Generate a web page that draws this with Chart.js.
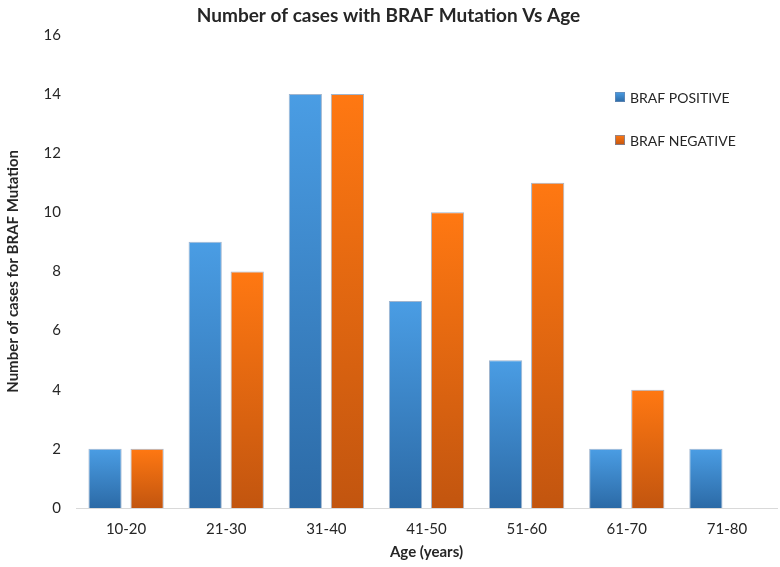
<!DOCTYPE html>
<html><head><meta charset="utf-8">
<script src="https://cdn.jsdelivr.net/npm/chart.js@4"></script>
<style>html,body{margin:0;padding:0;background:#fff}#wrap{width:780px;height:567px}</style>
</head><body><div id="wrap"><canvas id="c" width="780" height="567"></canvas></div>
<script>
const categories = ['10-20','21-30','31-40','41-50','51-60','61-70','71-80'];
const brafPositive = [2, 9, 14, 7, 5, 2, 2];
const brafNegative = [2, 8, 14, 10, 11, 4, 0];
const seriesNames = ['BRAF POSITIVE', 'BRAF NEGATIVE'];
const chartTitle = 'Number of cases with BRAF Mutation Vs Age';
const xTitle = 'Age (years)';
const yTitle = 'Number of cases for BRAF Mutation';

const FONT = 'Lato, "Open Sans", sans-serif';
const TEXT = '#262626';

function gradientFill(top, bottom) {
  return (c) => {
    const chart = c.chart;
    const ys = chart.scales && chart.scales.y;
    if (!chart.chartArea || !ys || c.type !== 'data') return top;
    const v = c.raw;
    const y0 = ys.getPixelForValue(v), y1 = ys.getPixelForValue(0);
    if (Math.abs(y1 - y0) < 1) return top;
    const g = chart.ctx.createLinearGradient(0, y0, 0, y1);
    g.addColorStop(0, top);
    g.addColorStop(1, bottom);
    return g;
  };
}

const legendPlugin = {
  id: 'overlayLegend',
  afterDraw(chart) {
    const ctx = chart.ctx;
    const x = 615, ys = [97, 140];
    ctx.save();
    ctx.font = '14px ' + FONT;
    ctx.textBaseline = 'middle';
    ctx.textAlign = 'left';
    chart.data.datasets.forEach((ds, i) => {
      const y = ys[i];
      const g = ctx.createLinearGradient(0, y - 5, 0, y + 5);
      g.addColorStop(0, ds.topColor); g.addColorStop(1, ds.bottomColor);
      ctx.fillStyle = g;
      ctx.fillRect(x, y - 5, 10, 10);
      ctx.strokeStyle = 'rgba(110,140,180,0.7)';
      ctx.lineWidth = 1;
      ctx.strokeRect(x + 0.5, y - 4.5, 9, 9);
      ctx.fillStyle = TEXT;
      ctx.fillText(ds.label, x + 15, y + 1);
    });
    ctx.restore();
  }
};

const datasets = [
  { label: seriesNames[0], data: brafPositive, topColor: '#4a9de4', bottomColor: '#2c6aa6' },
  { label: seriesNames[1], data: brafNegative, topColor: '#ff7812', bottomColor: '#c2550f' }
].map(d => Object.assign(d, {
  backgroundColor: gradientFill(d.topColor, d.bottomColor),
  borderColor: 'rgba(120,150,185,0.7)',
  borderWidth: 1,
  categoryPercentage: 0.84,
  barPercentage: 0.79
}));

new Chart(document.getElementById('c'), {
  type: 'bar',
  data: { labels: categories, datasets },
  options: {
    responsive: false,
    animation: false,
    layout: { padding: { left: 0, right: 3, top: 0, bottom: 0 } },
    plugins: {
      legend: { display: false },
      tooltip: { enabled: false },
      title: {
        display: true, text: chartTitle, color: TEXT,
        font: { family: FONT, size: 19, weight: 'bold' },
        padding: { top: 4, bottom: 8 }
      }
    },
    scales: {
      x: {
        grid: { display: false, drawTicks: false },
        border: { display: true, color: '#d9d9d9', width: 1 },
        ticks: { color: TEXT, font: { family: FONT, size: 15 }, padding: 12 },
        title: { display: true, text: xTitle, color: TEXT, font: { family: FONT, size: 15, weight: 'bold' }, padding: { top: 0, bottom: 6 } },
        afterFit(s) { s.height = 59; }
      },
      y: {
        min: 0, max: 16,
        grid: { display: false, drawTicks: false },
        border: { display: false },
        ticks: { stepSize: 2, color: TEXT, font: { family: FONT, size: 15 }, padding: 15 },
        title: { display: true, text: yTitle, color: TEXT, font: { family: FONT, size: 15, weight: 'bold' }, padding: { top: 4, bottom: 0 } },
        afterFit(s) { s.width = 76; }
      }
    }
  },
  plugins: [legendPlugin]
});
</script>
</body></html>
